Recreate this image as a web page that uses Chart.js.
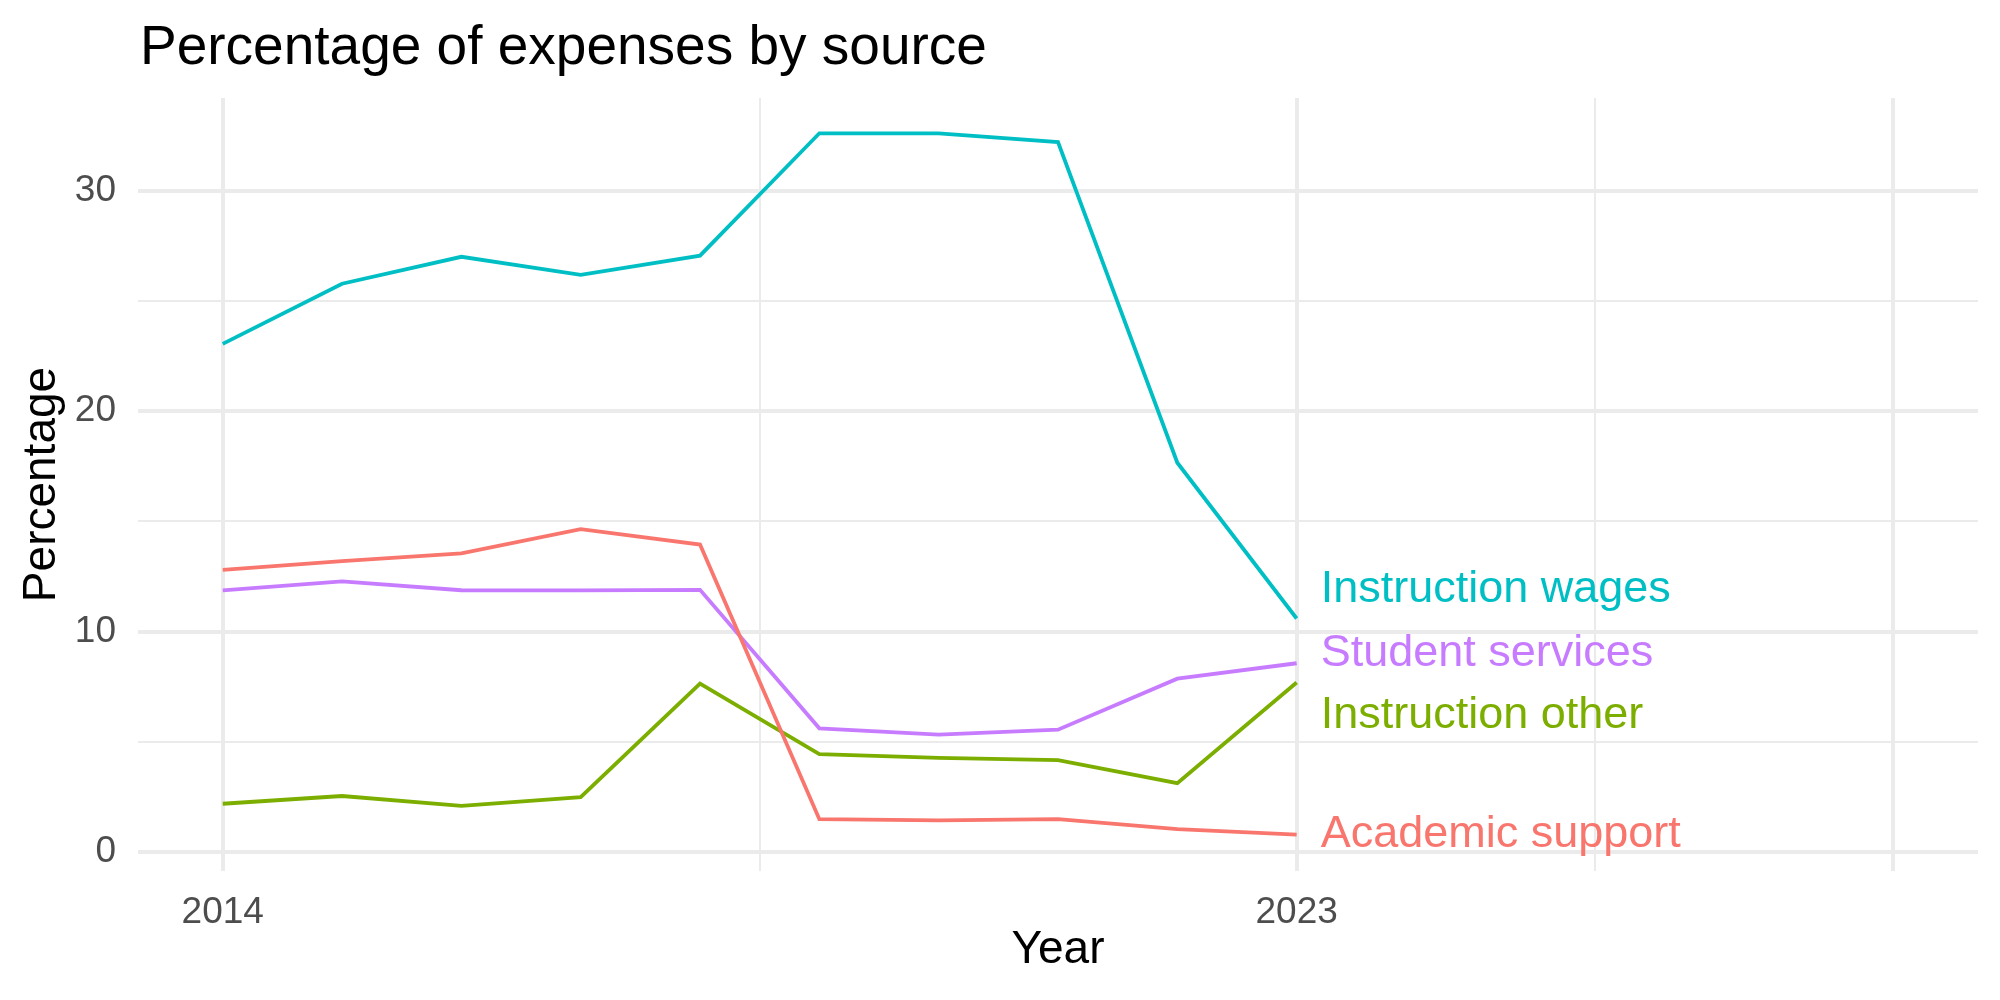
<!DOCTYPE html>
<html>
<head>
<meta charset="utf-8">
<script src="https://cdn.jsdelivr.net/npm/chart.js@4.4.1/dist/chart.umd.min.js"></script>
<style>
  html, body { margin: 0; padding: 0; background: #fff; }
  #wrap { width: 2000px; height: 1000px; }
</style>
</head>
<body>
<div id="wrap"><canvas id="chart" width="2000" height="1000"></canvas></div>
<script>
// Data
const years = [2014, 2015, 2016, 2017, 2018, 2019, 2020, 2021, 2022, 2023];
const academicSupport = [12.8, 13.2, 13.55, 14.65, 13.95, 1.5, 1.45, 1.5, 1.05, 0.8];
const instructionOther = [2.2, 2.55, 2.1, 2.5, 7.65, 4.45, 4.28, 4.18, 3.13, 7.7];
const instructionWages = [23.05, 25.78, 27.0, 26.18, 27.05, 32.6, 32.6, 32.2, 17.66, 10.6];
const studentServices = [11.87, 12.28, 11.88, 11.87, 11.9, 5.62, 5.33, 5.56, 7.87, 8.57];

const seriesNames = ['Academic support', 'Instruction other', 'Instruction wages', 'Student services'];
const seriesColors = ['#F8766D', '#7CAE00', '#00BFC4', '#C77CFF'];
// where the end labels sit (value units), after repel
const labelValues = [0.8, 6.2, 11.9, 9.0];

const xBreaks = [2014, 2018.5, 2023, 2025.5, 2028];
const xLabels = [2014, 2023];
const yBreaks = [0, 5, 10, 15, 20, 25, 30];
const yLabels = [0, 10, 20, 30];

const FONT = "'Liberation Sans', Arial, sans-serif";
const GRID = '#EBEBEB';

const allSeries = [academicSupport, instructionOther, instructionWages, studentServices];
const datasets = allSeries.map((vals, i) => ({
  label: seriesNames[i],
  data: years.map((y, j) => ({ x: y, y: vals[j] })),
  borderColor: seriesColors[i],
  borderWidth: 3.8,
  pointRadius: 0,
  fill: false,
  tension: 0
}));

// text that ggplot draws outside the panel + end labels
const textPlugin = {
  id: 'texts',
  afterDraw(chart) {
    const ctx = chart.ctx;
    const area = chart.chartArea;
    const xs = chart.scales.x, ys = chart.scales.y;
    ctx.save();
    ctx.fillStyle = '#000';
    ctx.font = '55px ' + FONT;
    ctx.textAlign = 'left';
    ctx.textBaseline = 'alphabetic';
    ctx.fillText('Percentage of expenses by source', 140, 64);

    ctx.font = '46px ' + FONT;
    ctx.textAlign = 'center';
    ctx.textBaseline = 'middle';
    ctx.fillText('Year', (area.left + area.right) / 2, 950);

    ctx.save();
    ctx.translate(42, (area.top + area.bottom) / 2);
    ctx.rotate(-Math.PI / 2);
    ctx.fillText('Percentage', 0, 0);
    ctx.restore();

    ctx.font = '45px ' + FONT;
    ctx.textAlign = 'left';
    const lastX = xs.getPixelForValue(years[years.length - 1]);
    seriesNames.forEach((name, i) => {
      ctx.fillStyle = seriesColors[i];
      ctx.fillText(name, lastX + 24, ys.getPixelForValue(labelValues[i]));
    });
    ctx.restore();
  }
};

new Chart(document.getElementById('chart'), {
  type: 'line',
  data: { datasets },
  plugins: [textPlugin],
  options: {
    responsive: false,
    animation: false,
    layout: { padding: { left: 0, top: 98, right: 22, bottom: 0 } },
    plugins: { legend: { display: false }, tooltip: { enabled: false } },
    scales: {
      x: {
        type: 'linear',
        min: 2013.29,
        max: 2028.71,
        afterBuildTicks: (s) => { s.ticks = xBreaks.map(v => ({ value: v })); },
        afterFit: (s) => { s.height = 129; },
        border: { display: false },
        grid: {
          color: GRID,
          lineWidth: (c) => xLabels.includes(c.tick.value) || c.tick.value === 2028 ? 4 : 2,
          drawTicks: false
        },
        ticks: {
          autoSkip: false,
          maxRotation: 0,
          padding: 20,
          color: '#4D4D4D',
          font: { family: FONT, size: 37 },
          callback: (v) => xLabels.includes(v) ? String(v) : ''
        }
      },
      y: {
        min: -0.85,
        max: 34.2,
        afterBuildTicks: (s) => { s.ticks = yBreaks.map(v => ({ value: v })); },
        afterFit: (s) => { s.width = 138; },
        border: { display: false },
        grid: {
          color: GRID,
          lineWidth: (c) => yLabels.includes(c.tick.value) ? 4 : 2,
          drawTicks: false
        },
        ticks: {
          padding: 22,
          color: '#4D4D4D',
          font: { family: FONT, size: 37 },
          callback: (v) => yLabels.includes(v) ? String(v) : ''
        }
      }
    }
  }
});
</script>
</body>
</html>
